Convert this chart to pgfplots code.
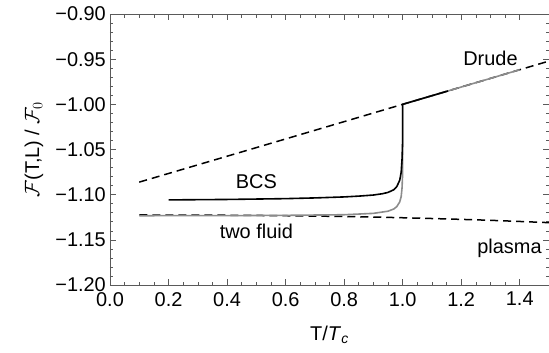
\documentclass[border=0pt]{standalone}
\usepackage{fontspec}
\setmainfont{Liberation Sans}
\usepackage{pgfplots}
\pgfplotsset{compat=1.18}
\definecolor{curvegray}{RGB}{140,140,140}
\definecolor{framegray}{RGB}{90,90,90}
\newcommand{\fs}{\fontsize{20}{22}\selectfont}
\begin{document}
\begin{tikzpicture}
\begin{axis}[
  scale only axis, width=439bp, height=271bp,
  xmin=0, xmax=1.5, ymin=-1.2, ymax=-0.9,
  xtick={0,0.2,0.4,0.6,0.8,1.0,1.2,1.4},
  xticklabels={0.0,0.2,0.4,0.6,0.8,1.0,1.2,1.4},
  ytick={-1.2,-1.15,-1.1,-1.05,-1.0,-0.95,-0.9},
  yticklabels={−1.20,−1.15,−1.10,−1.05,−1.00,−0.95,−0.90},
  minor x tick num=3, minor y tick num=4,
  tick align=inside,
  major tick length=6bp, minor tick length=3.5bp,
  every tick/.style={framegray, line width=0.6bp},
  axis line style={framegray, line width=0.8bp},
  tick label style={font=\fs},
  yticklabel style={inner sep=1bp, xshift=-3bp},
  xticklabel style={inner sep=1bp, yshift=-6bp},
  label style={font=\fs},
  xlabel={T/\textit{T}\textsubscript{\textit{c}}},
  xlabel style={at={(axis description cs:0.5,0)}, anchor=center, yshift=-50bp},
  ylabel={$\mathcal{F}$(T,L) / $\mathcal{F}_0$},
  ylabel style={at={(axis description cs:0,0.5)}, anchor=center, rotate=0, yshift=76bp},
  clip=true,
]
% Drude (dashed)
\addplot[black, line width=1.5bp, dash pattern=on 8bp off 5bp] coordinates {
 (0.1,-1.0861) (0.5,-1.0479) (1.0,-1.0) (1.5,-0.9521)};
% plasma (dashed)
\addplot[black, line width=1.5bp, dash pattern=on 8bp off 5bp, smooth] coordinates {
 (0.1,-1.1225) (0.3,-1.1226) (0.5,-1.1230) (0.7,-1.1237) (0.9,-1.1248)
 (1.1,-1.1264) (1.3,-1.1284) (1.5,-1.1310)};
% two fluid (gray)
\addplot[curvegray, line width=1.6bp] coordinates {
 (0.1,-1.1233) (0.4,-1.1232) (0.6,-1.1229) (0.8,-1.1222) (0.9,-1.1207)
 (0.95,-1.1183) (0.97,-1.1158) (0.98,-1.1132) (0.99,-1.1080) (0.995,-1.1020)
 (0.998,-1.0920) (1.0,-1.075) (1.0,-1.0) (1.40,-0.9617)};
% BCS (black)
\addplot[black, line width=1.6bp] coordinates {
 (0.2,-1.1058) (0.4,-1.1053) (0.6,-1.1044) (0.7,-1.1036) (0.8,-1.1025)
 (0.85,-1.1016) (0.9,-1.1004) (0.93,-1.0990) (0.95,-1.0975) (0.97,-1.0945)
 (0.98,-1.0910) (0.99,-1.0840) (0.995,-1.0750) (0.998,-1.0600) (1.0,-1.040)
 (1.0,-1.0) (1.155,-0.9852)};
\node[font=\fs] at (axis cs:1.30,-0.949) {Drude};
\node[font=\fs] at (axis cs:0.50,-1.0857) {BCS};
\node[font=\fs] at (axis cs:0.50,-1.141) {two fluid};
\node[font=\fs] at (axis cs:1.365,-1.159) {plasma};
\end{axis}
\path (current axis.south west) ++(-110bp,-68bp) coordinate (bbA);
\path (current axis.north east) ++(0bp,14bp) coordinate (bbB);
\pgfresetboundingbox
\path[use as bounding box] (bbA) rectangle (bbB);
\end{tikzpicture}
\end{document}
